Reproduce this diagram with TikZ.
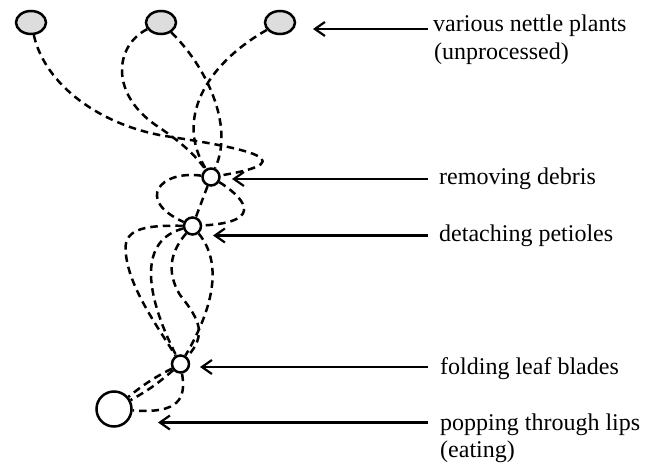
\documentclass[tikz,border=0pt]{standalone}
\usepackage{fontspec}
\setmainfont{Liberation Serif}
\usetikzlibrary{arrows.meta,shapes.geometric}
\definecolor{plantgray}{RGB}{221,221,221}
\begin{document}
\begin{tikzpicture}[x=1pt,y=-1pt,
  plant/.style={ellipse, draw, line width=2.5pt, fill=plantgray, minimum width=30pt, minimum height=23pt, inner sep=0pt},
  stepc/.style={circle, draw, line width=2.5pt, fill=white, minimum size=17pt, inner sep=0pt},
  mouth/.style={circle, draw, line width=2.5pt, fill=white, minimum size=35pt, inner sep=0pt},
  dsh/.style={line width=2.5pt, dash pattern=on 7.5pt off 5pt},
  arr/.style={line width=2.2pt, -{Straight Barb[length=10pt,width=14pt]}},
  lab/.style={anchor=base west, inner sep=0pt, font=\fontsize{24}{28}\selectfont}]
\useasboundingbox (0,0) rectangle (656,465);

% nodes
\node[plant] (P1) at (31,22.5) {};
\node[plant] (P2) at (161,22.5) {};
\node[plant] (P3) at (280,22.5) {};
\node[stepc] (C1) at (211,177) {};
\node[stepc] (C2) at (192.5,226) {};
\node[stepc] (C3) at (180.5,364) {};
\node[mouth] (M) at (114,409) {};

% labels
\node[lab] (L1) at (433,32) {various nettle plants};
\node[lab] (L1b) at (434,59.5) {(unprocessed)};
\node[lab] (L2) at (439,185) {removing debris};
\node[lab] (L3) at (439,241.5) {detaching petioles};
\node[lab] (L4) at (440,374) {folding leaf blades};
\node[lab] (L5) at (440,430.5) {popping through lips};
\node[lab] (L5b) at (440,457) {(eating)};

% arrow coordinates
\coordinate (s1) at (427.5,29);   \coordinate (t1) at (313,29);
\coordinate (s2) at (427.5,179);  \coordinate (t2) at (232,179);
\coordinate (s3) at (427.5,235.5);\coordinate (t3) at (213,235.5);
\coordinate (s4) at (427.5,367);  \coordinate (t4) at (200,367);
\coordinate (s5) at (427.5,422.5);\coordinate (t5) at (158,422.5);

\draw[arr] (s1) -- (t1);
\draw[arr] (s2) -- (t2);
\draw[arr] (s3) -- (t3);
\draw[arr] (s4) -- (t4);
\draw[arr] (s5) -- (t5);

% plants -> removing debris
\draw[dsh] (P1) .. controls (45,85) and (100,125) .. (165,136)
               .. controls (230,146) and (315,160) .. (C1);
\draw[dsh] (P2) .. controls (115,45) and (108,95) .. (160,128)
               .. controls (182,143) and (195,155) .. (C1);
\draw[dsh] (P2) .. controls (205,65) and (235,125) .. (C1);
\draw[dsh] (P3) .. controls (205,65) and (175,120) .. (C1);

% removing debris -> detaching petioles
\draw[dsh] (C1) .. controls (160,170) and (135,200) .. (C2);
\draw[dsh] (C1) -- (C2);
\draw[dsh] (C1) .. controls (240,195) and (270,222) .. (C2);

% detaching petioles -> folding leaf blades
\draw[dsh] (C2) .. controls (140,225) and (122,230) .. (126,255)
               .. controls (130,290) and (160,330) .. (C3);
\draw[dsh] (C2) .. controls (140,240) and (143,290) .. (C3);
\draw[dsh] (C2) .. controls (172,250) and (165,270) .. (180,295)
               .. controls (200,320) and (207,335) .. (C3);
\draw[dsh] (C2) .. controls (222,262) and (215,305) .. (C3);

% folding leaf blades -> popping through lips
\draw[dsh] (C3) to[bend left=6] (M);
\draw[dsh] (C3) to[bend right=6] (M);
\draw[dsh] (C3) .. controls (186,398) and (180,414) .. (M);
\end{tikzpicture}
\end{document}
